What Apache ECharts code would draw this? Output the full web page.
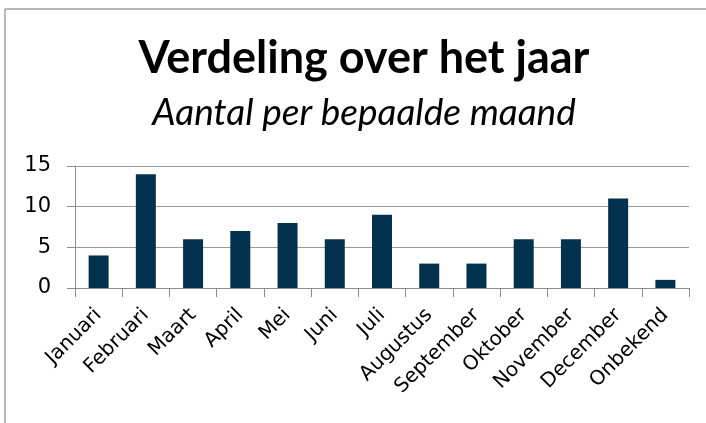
<!DOCTYPE html>
<html>
<head>
<meta charset="utf-8">
<script src="https://cdn.jsdelivr.net/npm/echarts@6/dist/echarts.min.js"></script>
<style>
  html, body { margin: 0; padding: 0; background: #fff; }
  #main { width: 706px; height: 423px; }
</style>
</head>
<body>
<div id="main"></div>
<script>
// maanden en aantallen
const maanden = ['Januari', 'Februari', 'Maart', 'April', 'Mei', 'Juni', 'Juli',
  'Augustus', 'September', 'Oktober', 'November', 'December', 'Onbekend'];
const aantallen = [4, 14, 6, 7, 8, 6, 9, 3, 3, 6, 6, 11, 1];
const yTicks = [0, 5, 10, 15];

const chart = echarts.init(document.getElementById('main'));
chart.setOption({
  animation: false,
  backgroundColor: '#fff',
  title: {
    text: 'Verdeling over het jaar',
    subtext: 'Aantal per bepaalde maand',
    left: 359,
    textAlign: 'center',
    top: 31,
    itemGap: 14,
    textStyle: {
      fontFamily: 'Lato',
      fontWeight: 'bold',
      fontSize: 45,
      color: '#000'
    },
    subtextStyle: {
      fontFamily: 'Lato',
      fontStyle: 'italic',
      fontSize: 37,
      color: '#000'
    }
  },
  graphic: [
    { type: 'line', shape: { x1: 5, y1: 9, x2: 706, y2: 9 }, style: { stroke: '#a0a0a0', lineWidth: 1.5 } },
    { type: 'line', shape: { x1: 5, y1: 9, x2: 5, y2: 423 }, style: { stroke: '#a0a0a0', lineWidth: 1.5 } }
  ],
  grid: { left: 75, right: 17, top: 166, bottom: 135 },
  xAxis: {
    type: 'category',
    data: maanden,
    boundaryGap: true,
    axisLine: { lineStyle: { color: '#8c8c8c', width: 1 } },
    axisTick: { show: true, length: 9, lineStyle: { color: '#8c8c8c' } },
    axisLabel: {
      rotate: 45,
      interval: 0,
      margin: 24,
      color: '#000',
      fontFamily: 'DejaVu Sans',
      fontSize: 20
    }
  },
  yAxis: {
    type: 'value',
    min: yTicks[0],
    max: yTicks[yTicks.length - 1],
    interval: 5,
    axisLine: { show: true, lineStyle: { color: '#8c8c8c', width: 1 } },
    axisTick: { show: true, length: 8, lineStyle: { color: '#8c8c8c' } },
    splitLine: { lineStyle: { color: '#9a9a9a', width: 1 } },
    axisLabel: {
      margin: 24,
      color: '#000',
      fontFamily: 'DejaVu Sans',
      fontSize: 21
    }
  },
  series: [{
    type: 'bar',
    data: aantallen,
    barWidth: 20,
    itemStyle: { color: '#03324f' }
  }]
});
</script>
</body>
</html>
